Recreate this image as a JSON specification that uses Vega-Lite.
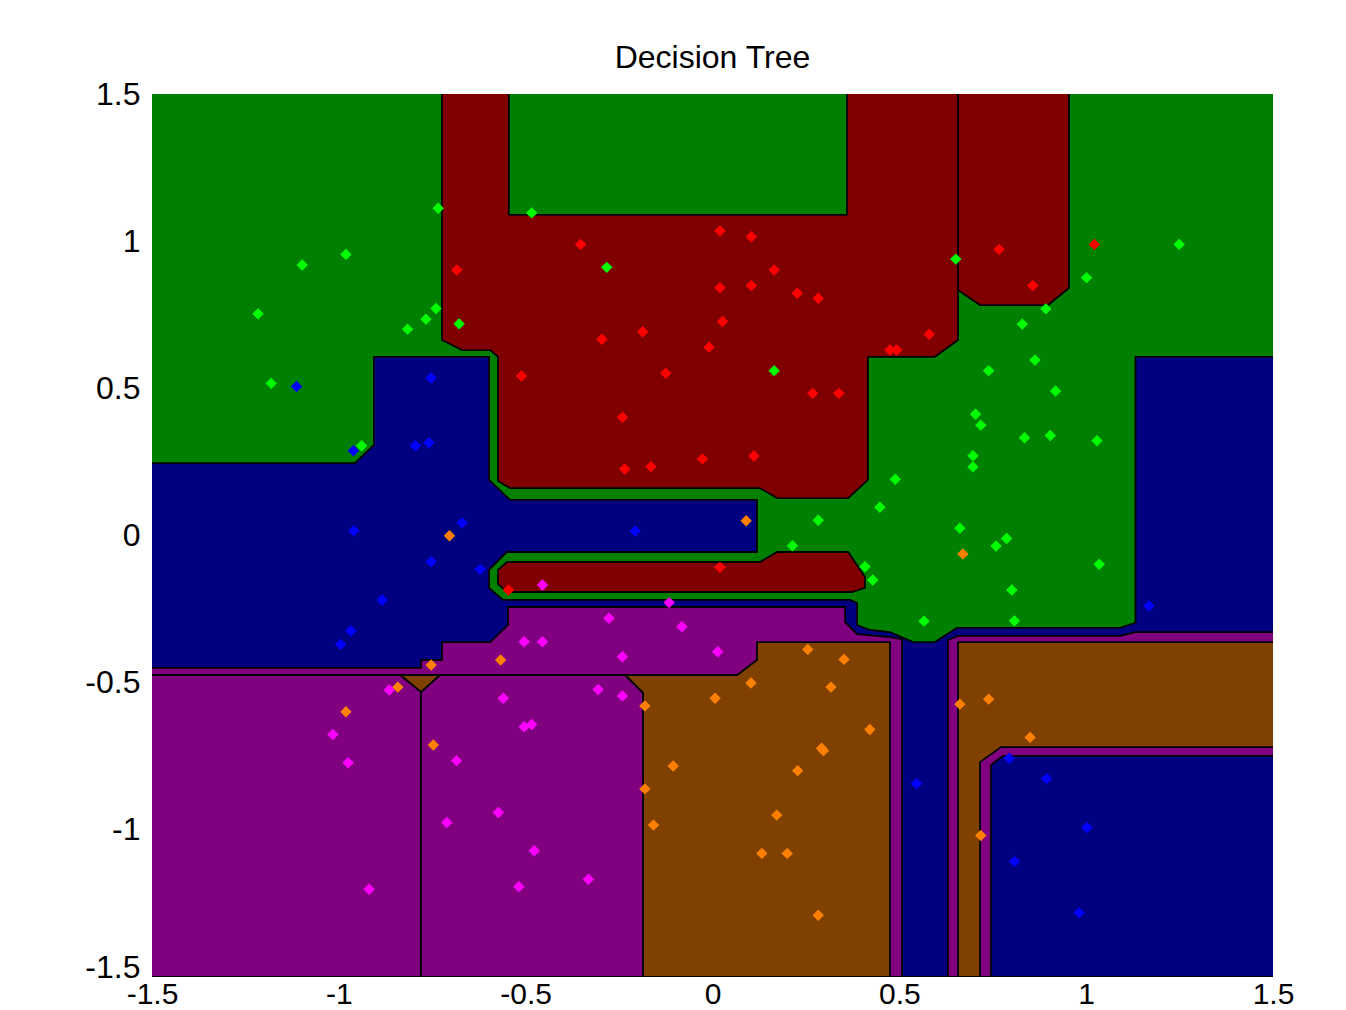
{
  "$schema": "https://vega.github.io/schema/vega-lite/v6.json",
  "width": 1121,
  "height": 883,
  "autosize": {"type": "none"},
  "padding": {"left": 152, "top": 94, "right": 73, "bottom": 33},
  "background": "white",
  "title": {"text": "Decision Tree", "font": "Liberation Sans", "fontSize": 32, "fontWeight": "normal", "color": "black", "anchor": "middle", "baseline": "alphabetic", "offset": 27, "dy": 49},
  "config": {"view": {"fill": "#008000", "stroke": null}},
  "datasets": {
    "polys": [
      {"p":"a01","o":1,"c":"rd","x":-0.724,"y":1.52},
      {"p":"a01","o":2,"c":"rd","x":0.657,"y":1.52},
      {"p":"a01","o":3,"c":"rd","x":0.657,"y":0.664},
      {"p":"a01","o":4,"c":"rd","x":0.595,"y":0.607},
      {"p":"a01","o":5,"c":"rd","x":0.416,"y":0.607},
      {"p":"a01","o":6,"c":"rd","x":0.416,"y":0.189},
      {"p":"a01","o":7,"c":"rd","x":0.363,"y":0.127},
      {"p":"a01","o":8,"c":"rd","x":0.173,"y":0.127},
      {"p":"a01","o":9,"c":"rd","x":0.127,"y":0.161},
      {"p":"a01","o":10,"c":"rd","x":-0.542,"y":0.161},
      {"p":"a01","o":11,"c":"rd","x":-0.574,"y":0.185},
      {"p":"a01","o":12,"c":"rd","x":-0.574,"y":0.607},
      {"p":"a01","o":13,"c":"rd","x":-0.595,"y":0.630},
      {"p":"a01","o":14,"c":"rd","x":-0.670,"y":0.630},
      {"p":"a01","o":15,"c":"rd","x":-0.724,"y":0.664},
      {"p":"a02","o":1,"c":"gn","x":-0.545,"y":1.52},
      {"p":"a02","o":2,"c":"gn","x":0.360,"y":1.52},
      {"p":"a02","o":3,"c":"gn","x":0.360,"y":1.089},
      {"p":"a02","o":4,"c":"gn","x":-0.545,"y":1.089},
      {"p":"a03","o":1,"c":"rd","x":0.657,"y":1.52},
      {"p":"a03","o":2,"c":"rd","x":0.954,"y":1.52},
      {"p":"a03","o":3,"c":"rd","x":0.954,"y":0.841},
      {"p":"a03","o":4,"c":"rd","x":0.898,"y":0.783},
      {"p":"a03","o":5,"c":"rd","x":0.716,"y":0.783},
      {"p":"a03","o":6,"c":"rd","x":0.657,"y":0.834},
      {"p":"a04","o":1,"c":"nv","x":-1.52,"y":0.246},
      {"p":"a04","o":2,"c":"nv","x":-0.957,"y":0.246},
      {"p":"a04","o":3,"c":"nv","x":-0.906,"y":0.308},
      {"p":"a04","o":4,"c":"nv","x":-0.906,"y":0.607},
      {"p":"a04","o":5,"c":"nv","x":-0.598,"y":0.607},
      {"p":"a04","o":6,"c":"nv","x":-0.598,"y":0.189},
      {"p":"a04","o":7,"c":"nv","x":-0.542,"y":0.121},
      {"p":"a04","o":8,"c":"nv","x":0.119,"y":0.121},
      {"p":"a04","o":9,"c":"nv","x":0.119,"y":-0.056},
      {"p":"a04","o":10,"c":"nv","x":-0.550,"y":-0.056},
      {"p":"a04","o":11,"c":"nv","x":-0.598,"y":-0.117},
      {"p":"a04","o":12,"c":"nv","x":-0.598,"y":-0.178},
      {"p":"a04","o":13,"c":"nv","x":-0.561,"y":-0.219},
      {"p":"a04","o":14,"c":"nv","x":0.368,"y":-0.219},
      {"p":"a04","o":15,"c":"nv","x":0.387,"y":-0.229},
      {"p":"a04","o":16,"c":"nv","x":0.387,"y":-0.304},
      {"p":"a04","o":17,"c":"nv","x":0.421,"y":-0.321},
      {"p":"a04","o":18,"c":"nv","x":0.475,"y":-0.328},
      {"p":"a04","o":19,"c":"nv","x":0.537,"y":-0.362},
      {"p":"a04","o":20,"c":"nv","x":0.595,"y":-0.362},
      {"p":"a04","o":21,"c":"nv","x":0.654,"y":-0.314},
      {"p":"a04","o":22,"c":"nv","x":1.090,"y":-0.314},
      {"p":"a04","o":23,"c":"nv","x":1.132,"y":-0.297},
      {"p":"a04","o":24,"c":"nv","x":1.132,"y":0.607},
      {"p":"a04","o":25,"c":"nv","x":1.52,"y":0.607},
      {"p":"a04","o":26,"c":"nv","x":1.52,"y":-1.5},
      {"p":"a04","o":27,"c":"nv","x":-1.52,"y":-1.5},
      {"p":"a05","o":1,"c":"rd","x":-0.550,"y":-0.090},
      {"p":"a05","o":2,"c":"rd","x":0.127,"y":-0.090},
      {"p":"a05","o":3,"c":"rd","x":0.173,"y":-0.056},
      {"p":"a05","o":4,"c":"rd","x":0.363,"y":-0.056},
      {"p":"a05","o":5,"c":"rd","x":0.408,"y":-0.141},
      {"p":"a05","o":6,"c":"rd","x":0.408,"y":-0.178},
      {"p":"a05","o":7,"c":"rd","x":0.373,"y":-0.192},
      {"p":"a05","o":8,"c":"rd","x":-0.550,"y":-0.192},
      {"p":"a05","o":9,"c":"rd","x":-0.574,"y":-0.165},
      {"p":"a05","o":10,"c":"rd","x":-0.574,"y":-0.117},
      {"p":"a06","o":1,"c":"pu","x":-0.547,"y":-0.243},
      {"p":"a06","o":2,"c":"pu","x":0.355,"y":-0.243},
      {"p":"a06","o":3,"c":"pu","x":0.355,"y":-0.294},
      {"p":"a06","o":4,"c":"pu","x":0.387,"y":-0.335},
      {"p":"a06","o":5,"c":"pu","x":0.475,"y":-0.345},
      {"p":"a06","o":6,"c":"pu","x":0.507,"y":-0.352},
      {"p":"a06","o":7,"c":"pu","x":0.507,"y":-1.5},
      {"p":"a06","o":8,"c":"pu","x":-1.52,"y":-1.5},
      {"p":"a06","o":9,"c":"pu","x":-1.52,"y":-0.450},
      {"p":"a06","o":10,"c":"pu","x":-0.780,"y":-0.450},
      {"p":"a06","o":11,"c":"pu","x":-0.780,"y":-0.423},
      {"p":"a06","o":12,"c":"pu","x":-0.724,"y":-0.423},
      {"p":"a06","o":13,"c":"pu","x":-0.724,"y":-0.362},
      {"p":"a06","o":14,"c":"pu","x":-0.595,"y":-0.362},
      {"p":"a06","o":15,"c":"pu","x":-0.547,"y":-0.304},
      {"p":"a07","o":1,"c":"pu","x":0.630,"y":-0.355},
      {"p":"a07","o":2,"c":"pu","x":0.657,"y":-0.341},
      {"p":"a07","o":3,"c":"pu","x":1.090,"y":-0.341},
      {"p":"a07","o":4,"c":"pu","x":1.132,"y":-0.328},
      {"p":"a07","o":5,"c":"pu","x":1.52,"y":-0.328},
      {"p":"a07","o":6,"c":"pu","x":1.52,"y":-1.5},
      {"p":"a07","o":7,"c":"pu","x":0.630,"y":-1.5},
      {"p":"a08","o":1,"c":"br","x":-0.234,"y":-0.474},
      {"p":"a08","o":2,"c":"br","x":0.066,"y":-0.474},
      {"p":"a08","o":3,"c":"br","x":0.119,"y":-0.423},
      {"p":"a08","o":4,"c":"br","x":0.119,"y":-0.362},
      {"p":"a08","o":5,"c":"br","x":0.475,"y":-0.362},
      {"p":"a08","o":6,"c":"br","x":0.475,"y":-1.5},
      {"p":"a08","o":7,"c":"br","x":-0.186,"y":-1.5},
      {"p":"a08","o":8,"c":"br","x":-0.186,"y":-0.535},
      {"p":"a09","o":1,"c":"br","x":0.657,"y":-0.362},
      {"p":"a09","o":2,"c":"br","x":1.52,"y":-0.362},
      {"p":"a09","o":3,"c":"br","x":1.52,"y":-0.719},
      {"p":"a09","o":4,"c":"br","x":0.772,"y":-0.719},
      {"p":"a09","o":5,"c":"br","x":0.716,"y":-0.770},
      {"p":"a09","o":6,"c":"br","x":0.716,"y":-1.5},
      {"p":"a09","o":7,"c":"br","x":0.657,"y":-1.5},
      {"p":"a10","o":1,"c":"nv","x":0.745,"y":-1.5},
      {"p":"a10","o":2,"c":"nv","x":0.745,"y":-0.780},
      {"p":"a10","o":3,"c":"nv","x":0.777,"y":-0.749},
      {"p":"a10","o":4,"c":"nv","x":1.52,"y":-0.749},
      {"p":"a10","o":5,"c":"nv","x":1.52,"y":-1.5},
      {"p":"a11","o":1,"c":"br","x":-0.836,"y":-0.474},
      {"p":"a11","o":2,"c":"br","x":-0.729,"y":-0.474},
      {"p":"a11","o":3,"c":"br","x":-0.780,"y":-0.532},
      {"p":"a12","o":1,"c":"pu","x":-1.52,"y":-0.474},
      {"p":"a12","o":2,"c":"pu","x":-0.836,"y":-0.474},
      {"p":"a12","o":3,"c":"pu","x":-0.780,"y":-0.532},
      {"p":"a12","o":4,"c":"pu","x":-0.780,"y":-1.5},
      {"p":"a12","o":5,"c":"pu","x":-1.52,"y":-1.5},
      {"p":"a13","o":1,"c":"pu","x":-0.780,"y":-0.532},
      {"p":"a13","o":2,"c":"pu","x":-0.729,"y":-0.474},
      {"p":"a13","o":3,"c":"pu","x":-0.234,"y":-0.474},
      {"p":"a13","o":4,"c":"pu","x":-0.186,"y":-0.535},
      {"p":"a13","o":5,"c":"pu","x":-0.186,"y":-1.5},
      {"p":"a13","o":6,"c":"pu","x":-0.780,"y":-1.5}
    ],
    "pts": [
      {"k":"G","x":-0.734,"y":1.112},{"k":"G","x":-0.981,"y":0.955},{"k":"G","x":-1.098,"y":0.919},{"k":"G","x":-1.216,"y":0.753},
      {"k":"G","x":-0.740,"y":0.771},{"k":"G","x":-0.767,"y":0.735},{"k":"G","x":-0.816,"y":0.701},{"k":"G","x":-0.678,"y":0.719},
      {"k":"G","x":-1.181,"y":0.517},{"k":"G","x":-0.939,"y":0.305},{"k":"G","x":-0.484,"y":1.096},{"k":"G","x":-0.283,"y":0.911},
      {"k":"G","x":0.165,"y":0.560},{"k":"G","x":0.651,"y":0.939},{"k":"G","x":1.249,"y":0.989},{"k":"G","x":1.001,"y":0.876},
      {"k":"G","x":0.892,"y":0.770},{"k":"G","x":0.829,"y":0.718},{"k":"G","x":0.863,"y":0.596},{"k":"G","x":0.739,"y":0.560},
      {"k":"G","x":0.918,"y":0.491},{"k":"G","x":0.704,"y":0.412},{"k":"G","x":0.718,"y":0.375},{"k":"G","x":0.835,"y":0.332},
      {"k":"G","x":0.904,"y":0.340},{"k":"G","x":1.029,"y":0.322},{"k":"G","x":0.697,"y":0.271},{"k":"G","x":0.697,"y":0.233},
      {"k":"G","x":0.489,"y":0.191},{"k":"G","x":0.448,"y":0.096},{"k":"G","x":0.283,"y":0.052},{"k":"G","x":0.662,"y":0.025},
      {"k":"G","x":0.787,"y":-0.010},{"k":"G","x":0.759,"y":-0.036},{"k":"G","x":0.214,"y":-0.035},{"k":"G","x":0.408,"y":-0.106},
      {"k":"G","x":0.429,"y":-0.151},{"k":"G","x":1.035,"y":-0.098},{"k":"G","x":0.801,"y":-0.185},{"k":"G","x":0.566,"y":-0.291},
      {"k":"G","x":0.808,"y":-0.290},
      {"k":"R","x":-0.684,"y":0.902},{"k":"R","x":-0.511,"y":0.542},{"k":"R","x":-0.353,"y":0.989},{"k":"R","x":0.020,"y":1.035},
      {"k":"R","x":0.104,"y":1.015},{"k":"R","x":0.165,"y":0.902},{"k":"R","x":0.020,"y":0.842},{"k":"R","x":0.104,"y":0.849},
      {"k":"R","x":0.227,"y":0.823},{"k":"R","x":0.283,"y":0.806},{"k":"R","x":0.027,"y":0.727},{"k":"R","x":-0.187,"y":0.692},
      {"k":"R","x":-0.296,"y":0.667},{"k":"R","x":-0.009,"y":0.640},{"k":"R","x":0.475,"y":0.630},{"k":"R","x":0.493,"y":0.630},
      {"k":"R","x":-0.125,"y":0.551},{"k":"R","x":0.268,"y":0.483},{"k":"R","x":0.338,"y":0.483},{"k":"R","x":-0.241,"y":0.402},
      {"k":"R","x":-0.027,"y":0.260},{"k":"R","x":0.111,"y":0.270},{"k":"R","x":-0.235,"y":0.226},{"k":"R","x":-0.165,"y":0.234},
      {"k":"R","x":0.020,"y":-0.108},{"k":"R","x":-0.546,"y":-0.185},{"k":"R","x":0.580,"y":0.684},{"k":"R","x":0.767,"y":0.972},
      {"k":"R","x":1.022,"y":0.989},{"k":"R","x":0.857,"y":0.849},
      {"k":"B","x":-1.113,"y":0.506},{"k":"B","x":-0.753,"y":0.535},{"k":"B","x":-0.961,"y":0.288},{"k":"B","x":-0.795,"y":0.305},
      {"k":"B","x":-0.759,"y":0.315},{"k":"B","x":-0.960,"y":0.016},{"k":"B","x":-0.670,"y":0.043},{"k":"B","x":-0.753,"y":-0.089},
      {"k":"B","x":-0.622,"y":-0.115},{"k":"B","x":-0.884,"y":-0.219},{"k":"B","x":-0.968,"y":-0.324},{"k":"B","x":-0.995,"y":-0.370},
      {"k":"B","x":-0.207,"y":0.015},{"k":"B","x":1.168,"y":-0.239},{"k":"B","x":0.546,"y":-0.843},{"k":"B","x":0.794,"y":-0.757},
      {"k":"B","x":0.894,"y":-0.826},{"k":"B","x":1.002,"y":-0.992},{"k":"B","x":0.808,"y":-1.107},{"k":"B","x":0.981,"y":-1.282},
      {"k":"M","x":-0.504,"y":-0.361},{"k":"M","x":-0.455,"y":-0.361},{"k":"M","x":-0.455,"y":-0.168},{"k":"M","x":-0.116,"y":-0.228},
      {"k":"M","x":-0.277,"y":-0.281},{"k":"M","x":-0.082,"y":-0.310},{"k":"M","x":0.014,"y":-0.395},{"k":"M","x":-0.241,"y":-0.412},
      {"k":"M","x":-0.306,"y":-0.523},{"k":"M","x":-0.241,"y":-0.545},{"k":"M","x":-0.865,"y":-0.525},{"k":"M","x":-1.016,"y":-0.676},
      {"k":"M","x":-0.975,"y":-0.772},{"k":"M","x":-0.685,"y":-0.765},{"k":"M","x":-0.560,"y":-0.553},{"k":"M","x":-0.504,"y":-0.650},
      {"k":"M","x":-0.484,"y":-0.642},{"k":"M","x":-0.573,"y":-0.941},{"k":"M","x":-0.711,"y":-0.975},{"k":"M","x":-0.919,"y":-1.202},
      {"k":"M","x":-0.518,"y":-1.193},{"k":"M","x":-0.477,"y":-1.071},{"k":"M","x":-0.332,"y":-1.168},
      {"k":"O","x":-0.704,"y":-0.001},{"k":"O","x":0.090,"y":0.050},{"k":"O","x":0.670,"y":-0.063},{"k":"O","x":-0.753,"y":-0.440},
      {"k":"O","x":-0.567,"y":-0.423},{"k":"O","x":-0.842,"y":-0.515},{"k":"O","x":-0.981,"y":-0.599},{"k":"O","x":-0.747,"y":-0.712},
      {"k":"O","x":0.255,"y":-0.387},{"k":"O","x":0.352,"y":-0.421},{"k":"O","x":0.103,"y":-0.501},{"k":"O","x":0.317,"y":-0.515},
      {"k":"O","x":0.007,"y":-0.553},{"k":"O","x":-0.181,"y":-0.579},{"k":"O","x":0.421,"y":-0.659},{"k":"O","x":0.292,"y":-0.723},
      {"k":"O","x":0.297,"y":-0.731},{"k":"O","x":-0.105,"y":-0.783},{"k":"O","x":0.228,"y":-0.799},{"k":"O","x":-0.181,"y":-0.861},
      {"k":"O","x":-0.158,"y":-0.984},{"k":"O","x":0.172,"y":-0.950},{"k":"O","x":0.132,"y":-1.080},{"k":"O","x":0.200,"y":-1.080},
      {"k":"O","x":0.283,"y":-1.290},{"k":"O","x":0.662,"y":-0.573},{"k":"O","x":0.739,"y":-0.556},{"k":"O","x":0.850,"y":-0.686},
      {"k":"O","x":0.718,"y":-1.019}
    ]
  },
  "encoding": {
    "x": {"field": "x", "type": "quantitative", "scale": {"domain": [-1.5, 1.5], "nice": false, "zero": false},
      "axis": {"title": null, "values": [-1.5, -1, -0.5, 0, 0.5, 1, 1.5], "format": "~g", "labelExpr": "replace(datum.label, '\u2212', '-')", "labelFont": "Liberation Sans", "labelFontSize": 30, "labelColor": "black", "labelPadding": 2, "labelFlush": false, "labelOverlap": false, "ticks": false, "domain": false, "grid": false}},
    "y": {"field": "y", "type": "quantitative", "scale": {"domain": [-1.5, 1.5], "nice": false, "zero": false},
      "axis": {"title": null, "values": [-1.5, -1, -0.5, 0, 0.5, 1, 1.5], "format": "~g", "labelExpr": "replace(datum.label, '\u2212', '-')", "labelFont": "Liberation Sans", "labelFontSize": 32, "labelColor": "black", "labelPadding": 12, "labelFlush": false, "labelOverlap": false,
        "labelBaseline": {"condition": {"test": "datum.value == -1.5", "value": "alphabetic"}, "value": "middle"},
        "ticks": false, "domain": false, "grid": false}}
  },
  "layer": [
    {
      "data": {"name": "polys"},
      "mark": {"type": "line", "interpolate": "linear-closed", "stroke": "black", "strokeWidth": 1.8, "clip": true, "strokeJoin": "miter"},
      "encoding": {
        "detail": {"field": "p", "type": "nominal"},
        "order": {"field": "o", "type": "quantitative"},
        "fill": {"field": "c", "type": "nominal", "legend": null,
          "scale": {"domain": ["rd","gn","nv","pu","br","R","G","B","M","O"], "range": ["#800000","#008000","#000080","#800080","#804000","#FF0000","#00FF00","#0000FF","#FF00FF","#FF8000"]}}
      }
    },
    {
      "data": {"name": "pts"},
      "mark": {"type": "point", "shape": "diamond", "filled": true, "size": 130, "opacity": 1, "strokeWidth": 0},
      "encoding": {
        "fill": {"field": "k", "type": "nominal", "legend": null,
          "scale": {"domain": ["rd","gn","nv","pu","br","R","G","B","M","O"], "range": ["#800000","#008000","#000080","#800080","#804000","#FF0000","#00FF00","#0000FF","#FF00FF","#FF8000"]}}
      }
    }
  ]
}
